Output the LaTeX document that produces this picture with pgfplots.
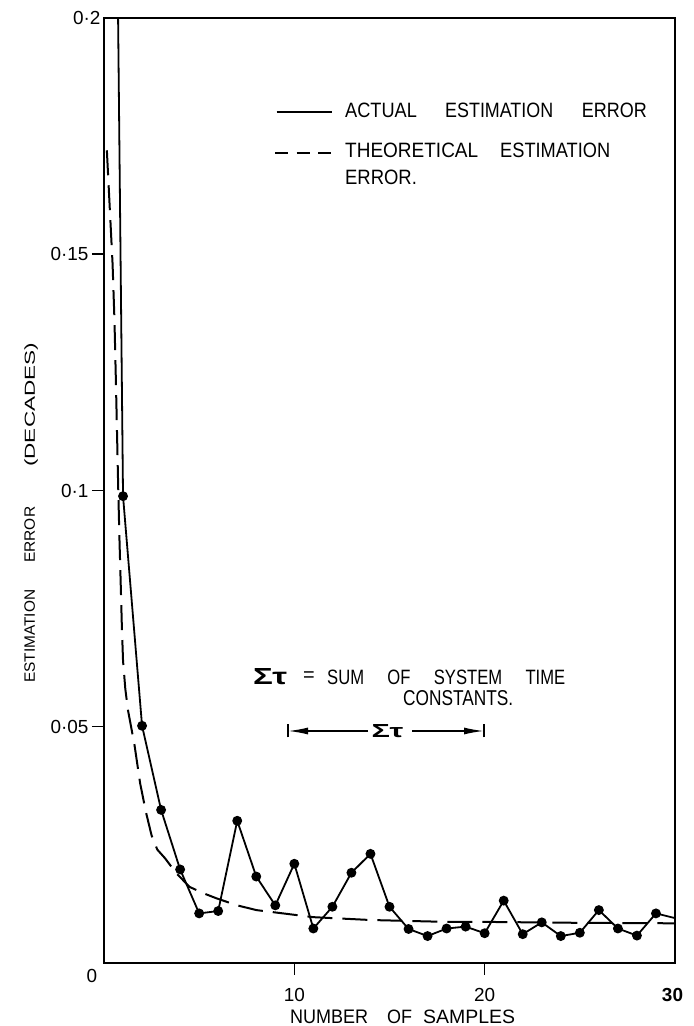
\documentclass[border=0pt]{standalone}
\usepackage{fontspec}
\setmainfont{Liberation Sans}
\usepackage{graphicx}
\usepackage{pgfplots}
\pgfplotsset{compat=1.18}
\usetikzlibrary{arrows.meta}
\newcommand\tickf{\fontsize{19}{21}\selectfont}
% word scaled to width #1 and cap height #2 (in bp)
\newcommand\W[3]{\resizebox{#1bp}{#2bp}{#3}}
\begin{document}
\begin{tikzpicture}
\useasboundingbox (-104bp,-63bp) rectangle (590bp,963bp);
\begin{axis}[
  at={(0,0)}, anchor=south west,
  width=571bp, height=945bp, scale only axis,
  xmin=0, xmax=30, ymin=0, ymax=0.2,
  axis line style={line width=1.5bp},
  tick pos=left,
  xtick={10,20}, xticklabels={10,20},
  ytick={0.05,0.1,0.15}, yticklabels={0·05,0·1,0·15},
  extra y ticks={0.2}, extra y tick labels={0·2},
  extra y tick style={major tick length=0pt},
  tick align=outside, major tick length=12bp,
  tick style={line width=1.5bp, black},
  ticklabel style={font=\tickf},
  xticklabel style={yshift=-10bp},
  unbounded coords=jump,
]
% actual estimation error (with dots)
\addplot[black, line width=1.8bp, mark=*, mark size=4bp] coordinates {
(1,0.0988) (2,0.0502) (3,0.0324) (4,0.0198) (5,0.0105) (6,0.0110)
(7,0.0301) (8,0.0183) (9,0.0122) (10,0.0210) (11,0.0073) (12,0.0119)
(13,0.0191) (14,0.0231) (15,0.0119) (16,0.0072) (17,0.0057) (18,0.0073)
(19,0.0077) (20,0.0063) (21,0.0132) (22,0.0061) (23,0.0086) (24,0.0057)
(25,0.0064) (26,0.0112) (27,0.0073) (28,0.0058) (29,0.0105)
};
% continuation of the actual curve beyond the dots
\addplot[black, line width=1.8bp, no marks] coordinates {
(0.74,0.2) (1,0.0988) (nan,nan) (29,0.0105) (30,0.0095)
};
% theoretical estimation error
\addplot[black, line width=2bp, no marks, dash pattern=on 25bp off 10bp] coordinates {
(0.15,0.172) (0.3,0.160) (0.45,0.148) (0.55,0.136) (0.62,0.124) (0.68,0.113)
(0.75,0.100) (0.81,0.090) (0.88,0.080) (0.94,0.071) (1.0,0.064) (1.12,0.058)
(1.26,0.0535) (1.6,0.0462) (1.9,0.038) (2.2,0.032) (2.5,0.027) (2.8,0.024)
(3.2,0.0222) (3.8,0.019) (4.5,0.0161) (5.2,0.0148) (5.9,0.0137) (7,0.0122)
(8,0.0112) (9,0.0107) (10,0.0102) (11,0.0097) (12,0.0095) (14,0.0091)
(16,0.0089) (18,0.0087) (20,0.0087) (25,0.0085) (30,0.0084)
};
\end{axis}
% heavier left and bottom axis lines, medium right line
\draw[line width=2.6bp] (0,945bp) -- (0,0) -- (571bp,0);
\draw[line width=2bp] (571bp,0) -- (571bp,945bp);
\begin{scope}[every node/.style={inner sep=0pt, anchor=base west}]
% origin and last x label
\node[font=\tickf, anchor=center] at (-12bp,-13bp) {0};
\node[font=\tickf\bfseries, anchor=center] at (568.5bp,-31.5bp) {30};
% x axis title
\node at (186bp,-60bp) {\W{78}{13.5}{NUMBER}};
\node at (283bp,-60bp) {\W{25}{13.5}{OF}};
\node at (319bp,-60bp) {\W{92}{13.5}{SAMPLES}};
% y axis title
\node[rotate=90] at (-69bp,280bp) {\W{93}{10.5}{ESTIMATION}};
\node[rotate=90] at (-69bp,400bp) {\W{56}{10.5}{ERROR}};
\node[rotate=90] at (-69bp,496bp) {\W{124}{10.5}{(DECADES)}};
% legend
\draw[line width=1.8bp] (172.7bp,851.3bp) -- (227.7bp,851.3bp);
\draw[line width=2bp, dash pattern=on 13bp off 8.5bp] (171bp,809.7bp) -- (227.7bp,809.7bp);
\node at (241bp,845bp) {\W{71.7}{14.5}{ACTUAL}};
\node at (341bp,845bp) {\W{108}{14.5}{ESTIMATION}};
\node at (477.7bp,845bp) {\W{65}{14.5}{ERROR}};
\node at (241bp,805bp) {\W{133}{14.5}{THEORETICAL}};
\node at (396bp,805bp) {\W{110}{14.5}{ESTIMATION}};
\node at (241bp,778bp) {\W{71.7}{14.5}{ERROR.}};
% sum of time constants annotation
\node at (149bp,278bp) {\W{34}{16}{\bfseries Στ}};
\node[font=\fontsize{20}{22}\selectfont, anchor=center] at (205bp,286bp) {=};
\node at (223bp,278bp) {\W{238}{14.5}{SUM\hspace{14bp}OF\hspace{14bp}SYSTEM\hspace{14bp}TIME}};
\node at (299bp,257bp) {\W{110}{15}{CONSTANTS.}};
\draw[line width=1.6bp] (184bp,225.5bp) -- (184bp,238.5bp);
\draw[line width=1.6bp] (380bp,225.5bp) -- (380bp,238.5bp);
\draw[line width=1.6bp, -{Latex[length=20bp,width=7bp]}] (264bp,232bp) -- (184bp,232bp);
\draw[line width=1.6bp, -{Latex[length=20bp,width=7bp]}] (308bp,232bp) -- (380bp,232bp);
\node[anchor=center] at (283.5bp,231.5bp) {\W{31.6}{13}{\bfseries Στ}};
\end{scope}
\end{tikzpicture}
\end{document}
